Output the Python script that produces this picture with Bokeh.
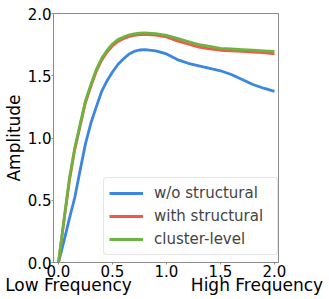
from bokeh.plotting import figure
from bokeh.models import Range1d, FixedTicker, PrintfTickFormatter, Legend, LegendItem, LinearAxis
from bokeh.embed import file_html
from bokeh.resources import INLINE

freq = [0, 0.05, 0.1, 0.15, 0.2, 0.25, 0.3, 0.35, 0.4, 0.45, 0.5, 0.55, 0.6, 0.65, 0.7, 0.75,
        0.8, 0.9, 1.0, 1.1, 1.2, 1.3, 1.4, 1.5, 1.6, 1.7, 1.8, 1.9, 2.0]
wo_structural = [0, 0.17, 0.35, 0.52, 0.74, 0.955, 1.12, 1.25, 1.375, 1.46, 1.53, 1.59, 1.635,
                 1.672, 1.695, 1.707, 1.71, 1.70, 1.675, 1.63, 1.60, 1.58, 1.56, 1.54, 1.51,
                 1.47, 1.43, 1.40, 1.375]
with_structural = [0, 0.33, 0.65, 0.905, 1.095, 1.285, 1.415, 1.535, 1.625, 1.69, 1.74, 1.775,
                   1.797, 1.814, 1.824, 1.831, 1.833, 1.826, 1.812, 1.78, 1.755, 1.73, 1.715,
                   1.705, 1.70, 1.695, 1.69, 1.685, 1.675]
cluster_level = [0, 0.34, 0.67, 0.92, 1.11, 1.30, 1.43, 1.55, 1.64, 1.705, 1.755, 1.79, 1.81,
                 1.827, 1.837, 1.843, 1.845, 1.838, 1.825, 1.80, 1.775, 1.75, 1.735, 1.72,
                 1.715, 1.71, 1.705, 1.70, 1.695]
series_names = ["w/o structural", "with structural", "cluster-level"]
y_ticks = [0.0, 0.5, 1.0, 1.5, 2.0]
x_ticks = [0.0, 0.5, 1.0, 1.5, 2.0]
band_ticks = [0.0926, 1.838]
band_labels = ["Low Frequency", "High Frequency"]

FONT = "DejaVu Sans"
GRAY = "#8c8c8c"

p = figure(width=329, height=299, output_backend="svg", toolbar_location=None,
           x_range=Range1d(-0.0463, 2.037), y_range=Range1d(0, 2.0),
           min_border_left=53, min_border_right=51, min_border_top=13, min_border_bottom=37)
p.xgrid.visible = False
p.ygrid.visible = False
p.outline_line_color = GRAY
p.outline_line_width = 1

for ax, ticks in ((p.xaxis[0], x_ticks), (p.yaxis[0], y_ticks)):
    ax.ticker = FixedTicker(ticks=ticks)
    ax.formatter = PrintfTickFormatter(format="%.1f")
    ax.minor_tick_line_color = None
    ax.major_tick_out = 2
    ax.major_tick_in = 0
    ax.major_tick_line_color = GRAY
    ax.axis_line_color = GRAY
    ax.major_label_text_font = FONT
    ax.major_label_text_font_size = "15px"
    ax.major_label_text_color = "black"
    ax.major_label_standoff = 0

p.yaxis[0].axis_label = "Amplitude"
p.yaxis[0].axis_label_text_font = FONT
p.yaxis[0].axis_label_text_font_size = "17px"
p.yaxis[0].axis_label_text_font_style = "normal"
p.yaxis[0].axis_label_text_color = "black"
p.yaxis[0].axis_label_standoff = 1

band_axis = LinearAxis(ticker=FixedTicker(ticks=band_ticks),
                       major_label_overrides={t: s for t, s in zip(band_ticks, band_labels)},
                       axis_line_color=None, major_tick_line_color=None,
                       minor_tick_line_color=None, major_tick_out=0, major_tick_in=0,
                       major_label_standoff=-5, major_label_text_font=FONT,
                       major_label_text_font_size="17px", major_label_text_color="black")
p.add_layout(band_axis, "below")

colors = ["#3b86e3", "#ef5a48", "#6cb33f"]
renderers = []
for ys, c in zip([wo_structural, with_structural, cluster_level], colors):
    r = p.line(freq, ys, line_color=c, line_width=2.8, line_join="round")
    renderers.append(r)

legend = Legend(items=[LegendItem(label=n, renderers=[r]) for n, r in zip(series_names, renderers)],
                location=(50, 7), label_text_font=FONT, label_text_font_size="15px",
                glyph_width=34, glyph_height=20, label_height=20, label_width=118,
                label_standoff=11, spacing=3, padding=5,
                border_line_color="#cccccc", border_line_width=1, border_radius=4,
                background_fill_alpha=0.8)
p.add_layout(legend, "center")

open("out.html", "w").write(file_html(p, INLINE))
